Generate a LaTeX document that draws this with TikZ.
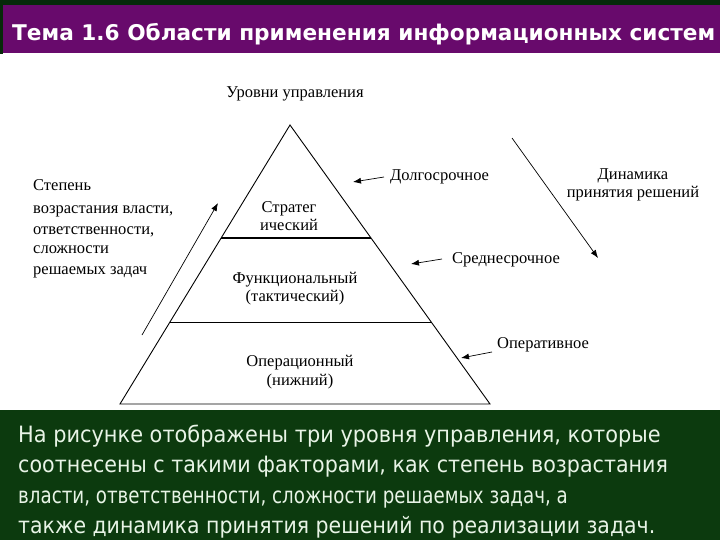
\documentclass[tikz,border=0pt]{standalone}
\usepackage{fontspec}
\setmainfont{Liberation Serif}
\newfontfamily\titlefont{DejaVu Sans}
\newfontfamily\bodyfont{DejaVu Sans}
\usetikzlibrary{arrows.meta}
\definecolor{topgreen}{HTML}{062A0A}
\definecolor{titlepurple}{HTML}{680A6C}
\definecolor{boxgreen}{HTML}{0C3A0E}
\definecolor{bodytext}{HTML}{E8F4E6}
\tikzset{
  lbl/.style={inner sep=0pt, font=\fontsize{16.5}{19}\selectfont},
  lbll/.style={lbl, anchor=base west},
  lblc/.style={lbl, anchor=base},
  pyr/.style={line width=0.9pt, line join=miter},
  arr/.style={line width=0.7pt, -{Latex[length=8pt,width=6pt]}},
  bodyline/.style={inner sep=0pt, anchor=base west, text=bodytext, font=\bodyfont\fontsize{22.5}{26}\selectfont}
}
\begin{document}
\begin{tikzpicture}[x=1pt,y=-1pt]
\useasboundingbox (0,0) rectangle (720,540);
\fill[white] (0,0) rectangle (720,540);
% title band
\fill[topgreen] (0,0) rectangle (720,6);
\fill[topgreen] (0,0) rectangle (3,54);
\fill[titlepurple] (3,5) rectangle (720,53);
\node[inner sep=0pt, anchor=base west, text=white, font=\titlefont\bfseries\fontsize{22}{24}\selectfont] (title) at (12,41)
  {\resizebox{703pt}{!}{Тема 1.6 Области применения информационных систем}};
% bottom box
\fill[boxgreen] (0,410) rectangle (720,540);
\node[bodyline] (l1) at (18,442) {\scalebox{0.928}[1]{На рисунке отображены три уровня управления, которые}};
\node[bodyline] (l2) at (18,472) {\scalebox{0.917}[1]{соотнесены с такими факторами, как степень возрастания}};
\node[bodyline] (l3) at (18,503) {\scalebox{0.811}[1]{власти, ответственности, сложности решаемых задач, а}};
\node[bodyline] (l4) at (18,533) {\scalebox{0.910}[1]{также динамика принятия решений по реализации задач.}};
% pyramid
\coordinate (apex) at (290,125);
\coordinate (bl) at (120,404);
\coordinate (br) at (490,404);
\coordinate (s1l) at (221,238);
\coordinate (s1r) at (371,238);
\coordinate (s2l) at (170,322);
\coordinate (s2r) at (432,322);
\draw[pyr] (apex) -- (bl) -- (br) -- cycle;
\draw[line width=2pt] (s1l) -- (s1r);
\draw[line width=1pt] (s2l) -- (s2r);
% labels
\node[lblc] (top) at (295,98) {Уровни управления};
\node[lblc] (str1) at (289,213) {Стратег};
\node[lblc] (str2) at (289,230) {ический};
\node[lblc] (fun1) at (295,283) {Функциональный};
\node[lblc] (fun2) at (295,301) {(тактический)};
\node[lblc] (op1) at (300,366) {Операционный};
\node[lblc] (op2) at (300,385) {(нижний)};
\node[lbll] (s1) at (33,191) {Степень};
\node[lbll] (s2) at (33,214) {возрастания власти,};
\node[lbll] (s3) at (33,234) {ответственности,};
\node[lbll] (s4) at (33,254) {сложности};
\node[lbll] (s5) at (33,274) {решаемых задач};
\node[lbll] (long) at (390,181) {Долгосрочное};
\node[lbll] (mid) at (452,263) {Среднесрочное};
\node[lbll] (oper) at (497,348) {Оперативное};
\node[lblc] (dyn1) at (633,180) {Динамика};
\node[lblc] (dyn2) at (633,197) {принятия решений};
% arrows
\coordinate (a1s) at (142,335); \coordinate (a1e) at (218,203);
\coordinate (a2s) at (512,138); \coordinate (a2e) at (598,258);
\coordinate (a3e) at (353,182);
\coordinate (a4e) at (411,264);
\coordinate (a5e) at (461,358);
\draw[arr] (a1s) -- (a1e);
\draw[arr] (a2s) -- (a2e);
\draw[arr] (long.west |- 0,177) ++(-6,0) -- (a3e);
\draw[arr] (mid.west |- 0,259) ++(-10,0) -- (a4e);
\draw[arr] (oper.west |- 0,352) ++(-5,0) -- (a5e);
\end{tikzpicture}
\end{document}
